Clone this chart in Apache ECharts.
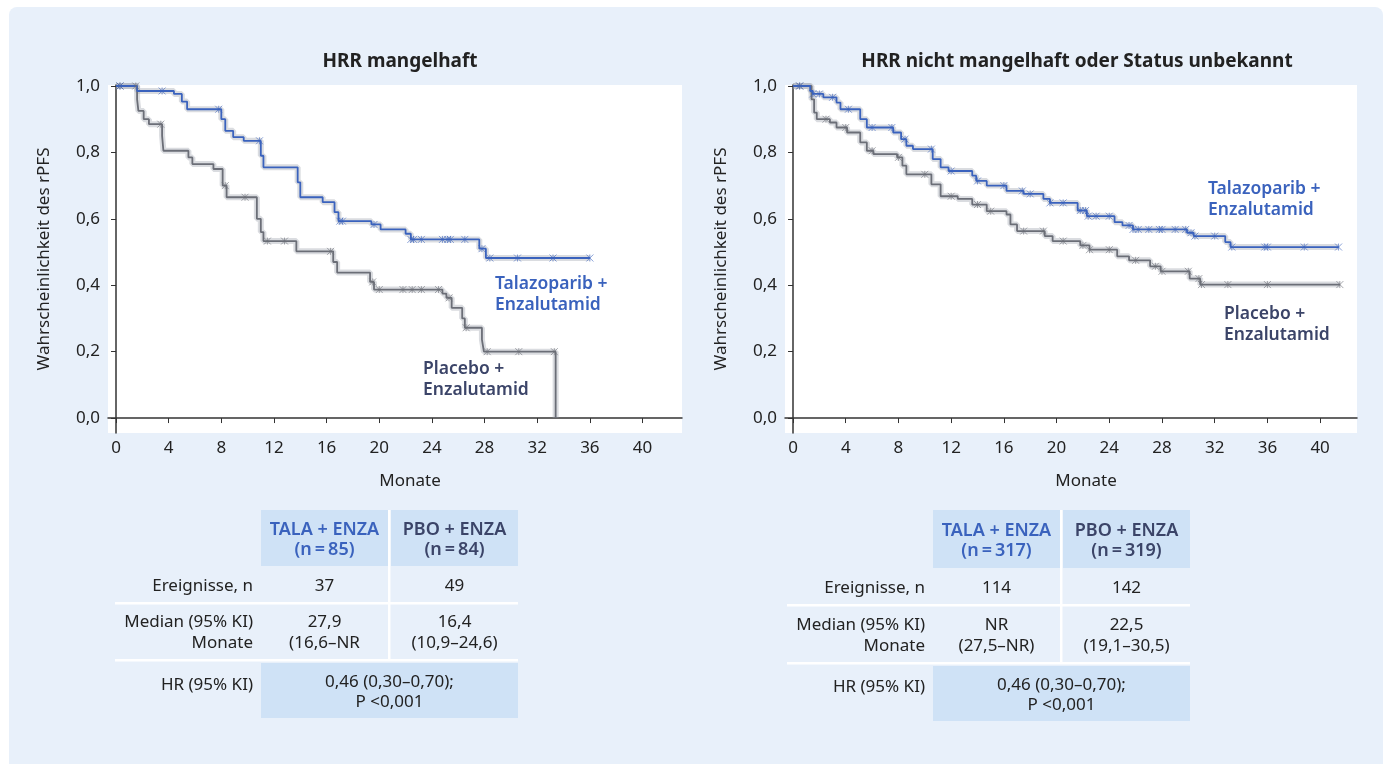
<!DOCTYPE html>
<html>
<head>
<meta charset="utf-8">
<script src="https://cdn.jsdelivr.net/npm/echarts@6/dist/echarts.min.js"></script>
<style>
html, body { margin: 0; padding: 0; background: #fff; }
#main { width: 1389px; height: 764px; }
</style>
</head>
<body>
<div id="main"></div>
<script>
// Kaplan-Meier Schritte (Monate / Wahrscheinlichkeit)
var hrrTalaT = [0, 1.6, 4.4, 5.0, 5.4, 8.0, 8.3, 8.9, 9.7, 11.0, 11.2, 13.8, 14.0, 15.7, 16.6, 16.9, 19.4, 20.1, 22.0, 22.4, 27.6, 28.1, 36.0];
var hrrTalaS = [1.0, 0.985, 0.976, 0.953, 0.93, 0.90, 0.865, 0.846, 0.835, 0.79, 0.755, 0.71, 0.665, 0.65, 0.62, 0.593, 0.583, 0.568, 0.555, 0.538, 0.51, 0.482, 0.482];
var hrrPboT = [0, 1.6, 1.7, 2.1, 2.5, 3.5, 3.6, 5.5, 5.8, 7.4, 8.1, 8.4, 10.7, 11.0, 11.2, 13.7, 16.5, 16.8, 19.3, 19.6, 24.8, 25.1, 25.5, 26.3, 26.5, 27.8, 27.95, 33.4];
var hrrPboS = [1.0, 0.96, 0.925, 0.90, 0.885, 0.85, 0.805, 0.785, 0.765, 0.75, 0.70, 0.665, 0.60, 0.56, 0.533, 0.502, 0.47, 0.438, 0.41, 0.387, 0.375, 0.362, 0.332, 0.30, 0.272, 0.236, 0.20, 0.0];
var hrrTalaCens = [0.3, 3.5, 7.8, 10.9, 17.0, 17.2, 19.6, 22.4, 22.6, 23.2, 24.8, 25.2, 25.4, 26.5, 27.8, 28.4, 30.5, 33.2, 36.0];
var hrrPboCens = [0.3, 1.5, 3.4, 8.3, 9.8, 11.5, 12.8, 16.3, 19.5, 20.0, 21.8, 22.5, 23.2, 24.5, 25.3, 26.6, 28.2, 30.6, 33.3];

var nonTalaT = [0, 1.3, 1.5, 2.3, 3.3, 3.6, 5.1, 5.6, 7.6, 8.2, 8.6, 9.1, 10.6, 11.2, 11.8, 13.6, 13.9, 14.7, 16.2, 17.5, 19.0, 19.5, 21.6, 22.3, 24.4, 25.0, 25.8, 29.9, 30.4, 32.8, 33.2, 41.4];
var nonTalaS = [1.0, 0.985, 0.976, 0.966, 0.95, 0.93, 0.90, 0.875, 0.86, 0.84, 0.82, 0.81, 0.78, 0.755, 0.744, 0.73, 0.714, 0.70, 0.684, 0.675, 0.66, 0.648, 0.625, 0.608, 0.59, 0.58, 0.568, 0.558, 0.548, 0.53, 0.515, 0.515];
var nonPboT = [0, 1.4, 1.6, 1.8, 2.8, 3.3, 4.1, 5.1, 5.6, 6.1, 7.9, 8.3, 8.6, 10.5, 11.2, 12.5, 13.6, 14.7, 16.2, 16.5, 17.0, 19.1, 19.7, 21.8, 22.5, 24.6, 25.5, 27.1, 27.9, 30.1, 30.9, 41.5];
var nonPboS = [1.0, 0.96, 0.92, 0.90, 0.89, 0.875, 0.86, 0.83, 0.805, 0.795, 0.785, 0.76, 0.734, 0.704, 0.668, 0.66, 0.643, 0.623, 0.613, 0.583, 0.563, 0.548, 0.533, 0.52, 0.507, 0.487, 0.475, 0.457, 0.442, 0.42, 0.402, 0.402];
var nonTalaCens = [0.5, 1.5, 2.0, 3.0, 4.2, 6.0, 7.5, 8.5, 10.5, 12.0, 14.0, 16.0, 17.4, 18.0, 19.5, 20.5, 21.8, 22.2, 22.4, 23.0, 24.0, 25.5, 25.8, 26.2, 27.0, 27.8, 28.0, 29.0, 29.8, 30.2, 30.5, 32.0, 33.3, 35.8, 36.0, 38.8, 41.4];
var nonPboCens = [0.5, 2.5, 4.0, 6.0, 8.0, 10.0, 12.0, 14.0, 15.0, 17.5, 19.0, 20.5, 22.0, 22.5, 24.0, 26.0, 27.5, 28.0, 30.0, 30.8, 31.0, 33.0, 36.0, 41.5];

var yTicks = [0, 0.2, 0.4, 0.6, 0.8, 1.0];
var xTicks = [0, 4, 8, 12, 16, 20, 24, 28, 32, 36, 40];

var panelTitles = ['HRR mangelhaft', 'HRR nicht mangelhaft oder Status unbekannt'];
var armHeaders = ['TALA + ENZA', 'PBO + ENZA'];
var armN = [['(n\u2009=\u200985)', '(n\u2009=\u200984)'], ['(n\u2009=\u2009317)', '(n\u2009=\u2009319)']];
var rowLabels = ['Ereignisse, n', 'Median (95% KI)\nMonate', 'HR (95% KI)'];
var events = [['37', '49'], ['114', '142']];
var medians = [['27,9\n(16,6–NR', '16,4\n(10,9–24,6)'], ['NR\n(27,5–NR)', '22,5\n(19,1–30,5)']];
var hrText = ['0,46 (0,30–0,70);\nP <0,001', '0,46 (0,30–0,70);\nP <0,001'];

var BLUE = '#3a62bd';
var GREY = '#6b6e77';
var NAVY = '#3b4468';
var FONT = "'Noto Sans', 'Open Sans', sans-serif";

function pairs(t, s) {
    return t.map(function (v, i) { return [v, s[i]]; });
}
function survAt(t, s, x) {
    var v = s[0];
    for (var i = 0; i < t.length; i++) {
        if (t[i] <= x) v = s[i];
    }
    return v;
}
function censPts(c, t, s) {
    return c.map(function (x) { return [x, survAt(t, s, x)]; });
}

var crossPath = 'path://M0,0L10,10M10,0L0,10M5,0L5,10';

function kmSeries(idx, t, s, cens, color) {
    return [{
        type: 'line', xAxisIndex: idx, yAxisIndex: idx, step: 'end',
        data: pairs(t, s), showSymbol: false, silent: true, z: 2,
        lineStyle: { color: 'rgba(150,155,165,0.35)', width: 6 }
    }, {
        type: 'line', xAxisIndex: idx, yAxisIndex: idx, step: 'end',
        data: pairs(t, s), showSymbol: false, silent: true, z: 3,
        lineStyle: { color: color, width: 1.8 }
    }, {
        type: 'scatter', xAxisIndex: idx, yAxisIndex: idx, silent: true, z: 4,
        data: censPts(cens, t, s), symbol: crossPath, symbolSize: 7,
        itemStyle: { color: 'none', borderColor: color, borderWidth: 1, opacity: 0.6 }
    }];
}

function yAxisDef(idx) {
    return {
        type: 'value', gridIndex: idx, min: -0.045, max: 1.003,
        name: 'Wahrscheinlichkeit des rPFS', nameLocation: 'middle', nameGap: 55,
        nameTextStyle: { fontSize: 17, color: '#222', fontFamily: FONT },
        axisLine: { show: true, lineStyle: { color: '#333', width: 1.5 } },
        axisTick: { show: true, length: 5, customValues: yTicks, lineStyle: { color: '#333' } },
        axisLabel: {
            customValues: yTicks, fontSize: 17, color: '#222', fontFamily: FONT, margin: 8,
            formatter: function (v) { return v.toFixed(1).replace('.', ','); }
        },
        splitLine: { show: false }
    };
}
function xAxisDef(idx, max) {
    return {
        type: 'value', gridIndex: idx, min: -0.61, max: max,
        name: 'Monate', nameLocation: 'middle', nameGap: 40,
        nameTextStyle: { fontSize: 17, color: '#222', fontFamily: FONT, padding: [0, 0, 0, 30] },
        axisLine: { show: true, lineStyle: { color: '#333', width: 1.5 } },
        axisTick: { show: true, length: 5, customValues: xTicks, lineStyle: { color: '#333' } },
        axisLabel: { customValues: xTicks, fontSize: 17, color: '#222', fontFamily: FONT, margin: 7 },
        splitLine: { show: false }
    };
}

// Tabellen als Grafikelemente
var graphics = [{
    type: 'rect', z: -10, silent: true,
    shape: { x: 9, y: 7, width: 1374, height: 780, r: 8 },
    style: { fill: '#e8f0fa' }
}];
var tables = [
    { lab: 253, c1: 261, c2: 391, w: 127, top: 510, left: 115 },
    { lab: 925, c1: 933, c2: 1063, w: 127, top: 510, left: 787 }
];
var TXT = '17px ' + FONT;
tables.forEach(function (tb, k) {
    var right = tb.c2 + tb.w;
    var cellFill = '#cfe2f6';
    graphics.push(
        { type: 'rect', shape: { x: tb.c1, y: tb.top, width: tb.w, height: 56 + k * 2 }, style: { fill: cellFill } },
        { type: 'rect', shape: { x: tb.c2, y: tb.top, width: tb.w, height: 56 + k * 2 }, style: { fill: cellFill } },
        { type: 'rect', shape: { x: tb.c1, y: 663 + k * 3, width: right - tb.c1, height: 55 }, style: { fill: cellFill } },
        { type: 'rect', shape: { x: tb.left, y: 602 + k * 2, width: right - tb.left, height: 2.5 }, style: { fill: '#fff' } },
        { type: 'rect', shape: { x: tb.left, y: 659 + k * 3, width: right - tb.left, height: 2.5 }, style: { fill: '#fff' } },
        { type: 'rect', shape: { x: tb.c2 - 3, y: tb.top, width: 2.5, height: 150 + k * 4 }, style: { fill: '#fff' } }
    );
    var hdrColors = [BLUE, NAVY];
    [tb.c1, tb.c2].forEach(function (cx, j) {
        graphics.push({
            type: 'text', x: cx + tb.w / 2, y: tb.top + 30 + k,
            style: {
                text: armHeaders[j] + '\n' + armN[k][j], fill: hdrColors[j], align: 'center', verticalAlign: 'middle',
                font: '600 18px ' + FONT, lineHeight: 20
            }
        });
        graphics.push({
            type: 'text', x: cx + tb.w / 2, y: 586 + k * 2,
            style: { text: events[k][j], fill: '#222', align: 'center', verticalAlign: 'middle', font: TXT }
        });
        graphics.push({
            type: 'text', x: cx + tb.w / 2, y: 633 + k * 3,
            style: { text: medians[k][j], fill: '#222', align: 'center', verticalAlign: 'middle', font: TXT, lineHeight: 21 }
        });
    });
    graphics.push({
        type: 'text', x: (tb.c1 + right) / 2, y: 692 + k * 3,
        style: { text: hrText[k], fill: '#222', align: 'center', verticalAlign: 'middle', font: TXT, lineHeight: 20 }
    });
    graphics.push(
        { type: 'text', x: tb.lab, y: 586 + k * 2, style: { text: rowLabels[0], fill: '#222', align: 'right', verticalAlign: 'middle', font: TXT } },
        { type: 'text', x: tb.lab, y: 633 + k * 3, style: { text: rowLabels[1], fill: '#222', align: 'right', verticalAlign: 'middle', font: TXT, lineHeight: 21 } },
        { type: 'text', x: tb.lab, y: 685 + k * 2, style: { text: rowLabels[2], fill: '#222', align: 'right', verticalAlign: 'middle', font: TXT } }
    );
});

// Kurvenbeschriftungen
var curveLabels = [
    { x: 495, y: 295, t: 'Talazoparib +\nEnzalutamid', c: BLUE },
    { x: 423, y: 380, t: 'Placebo +\nEnzalutamid', c: NAVY },
    { x: 1208, y: 200, t: 'Talazoparib +\nEnzalutamid', c: BLUE },
    { x: 1224, y: 325, t: 'Placebo +\nEnzalutamid', c: NAVY }
];
curveLabels.forEach(function (l) {
    graphics.push({
        type: 'text', x: l.x, y: l.y, z: 10,
        style: { text: l.t, fill: l.c, align: 'left', verticalAlign: 'middle', font: '600 17.5px ' + FONT, lineHeight: 21 }
    });
});

var myChart = echarts.init(document.getElementById('main'));

var option = {
    backgroundColor: '#fff',
    animation: false,
    title: [{
        text: panelTitles[0], left: 395, top: 47, textAlign: 'center',
        textStyle: { fontSize: 19, fontWeight: 'bold', color: '#222', fontFamily: FONT }
    }, {
        text: panelTitles[1], left: 1072, top: 47, textAlign: 'center',
        textStyle: { fontSize: 19, fontWeight: 'bold', color: '#222', fontFamily: FONT }
    }],
    grid: [
        { left: 108, top: 85, width: 574, height: 348, show: true, backgroundColor: '#fff', borderWidth: 0 },
        { left: 785, top: 85, width: 572, height: 348, show: true, backgroundColor: '#fff', borderWidth: 0 }
    ],
    xAxis: [xAxisDef(0, 43.0), xAxisDef(1, 42.8)],
    yAxis: [yAxisDef(0), yAxisDef(1)],
    series: [].concat(
        kmSeries(0, hrrPboT, hrrPboS, hrrPboCens, GREY),
        kmSeries(0, hrrTalaT, hrrTalaS, hrrTalaCens, BLUE),
        kmSeries(1, nonPboT, nonPboS, nonPboCens, GREY),
        kmSeries(1, nonTalaT, nonTalaS, nonTalaCens, BLUE)
    ),
    graphic: graphics
};

myChart.setOption(option);
</script>
</body>
</html>
